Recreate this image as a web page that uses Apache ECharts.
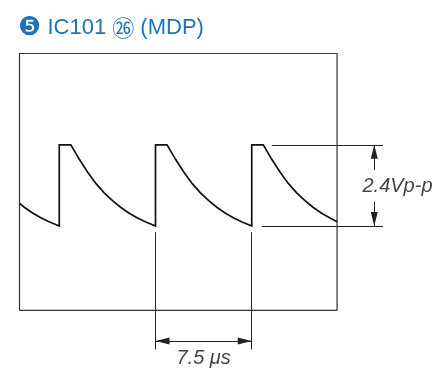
<!DOCTYPE html>
<html>
<head>
<meta charset="utf-8">
<script src="https://cdn.jsdelivr.net/npm/echarts@6/dist/echarts.min.js"></script>
<style>
html,body{margin:0;padding:0;background:#fff;}
#chart{width:440px;height:368px;}
</style>
</head>
<body>
<div id="chart"></div>
<script>
// ---- data (time in µs, level in V) ----
const waveTime = [
  0, 0.4, 1.05, 1.7, 2.35, 3.1,
  3.1, 4.0, 4.65, 5.3, 5.95, 6.6, 7.25, 7.9, 8.55, 9.2, 9.85, 10.6,
  10.6, 11.5, 12.15, 12.8, 13.45, 14.1, 14.75, 15.4, 16.05, 16.7, 17.35, 18.1,
  18.1, 19.0, 19.65, 20.3, 20.95, 21.6, 22.25, 22.9, 23.55, 24.2, 24.75
];
const waveVolt = [
  0.67, 0.55, 0.38, 0.24, 0.12, 0.0,
  2.4, 2.4, 1.98, 1.60, 1.26, 0.98, 0.75, 0.55, 0.38, 0.24, 0.12, 0.0,
  2.4, 2.4, 1.98, 1.60, 1.26, 0.98, 0.75, 0.55, 0.38, 0.24, 0.12, 0.0,
  2.4, 2.4, 1.98, 1.60, 1.26, 0.98, 0.75, 0.55, 0.38, 0.24, 0.13
];
const screenTime = [0, 24.75];      // scope screen horizontal span
const screenVolt = [-2.49, 5.1];    // scope screen vertical span
const edgeTimes = [10.6, 18.1];     // rising edges used for the period marker
const levelVolts = [0, 2.4];        // trough / peak levels
const periodLabel = '7.5';
const ppLabel = '2.4Vp-p';

// ---- build ----
const wave = waveTime.map((t, i) => [t, waveVolt[i]]);
const box = [
  [screenTime[0], screenVolt[0]], [screenTime[1], screenVolt[0]],
  [screenTime[1], screenVolt[1]], [screenTime[0], screenVolt[1]],
  [screenTime[0], screenVolt[0]]
];

// annotation placement
const refEnd = 28.33, topRefStart = 19.66, botRefStart = 18.88;
const vArrowX = 27.65, vGapTop = 1.66, vGapBot = 0.72;
const hArrowY = -3.40, vLineTop = -0.18, vLineBot = -3.65;
const arrowEnd = { symbol: 'triangle', symbolSize: [7, 14], symbolOffset: [0, 7] };

const ml = [
  [{ coord: [topRefStart, levelVolts[1]] }, { coord: [refEnd, levelVolts[1]] }],
  [{ coord: [botRefStart, levelVolts[0]] }, { coord: [refEnd, levelVolts[0]] }],
  [{ coord: [edgeTimes[0], vLineTop] }, { coord: [edgeTimes[0], vLineBot] }],
  [{ coord: [edgeTimes[1], vLineTop] }, { coord: [edgeTimes[1], vLineBot] }],
  [Object.assign({ coord: [vArrowX, levelVolts[1]] }, arrowEnd), { coord: [vArrowX, vGapTop] }],
  [{ coord: [vArrowX, vGapBot] }, Object.assign({ coord: [vArrowX, levelVolts[0]] }, arrowEnd)],
  [Object.assign({ coord: [edgeTimes[0], hArrowY] }, arrowEnd), Object.assign({ coord: [edgeTimes[1], hArrowY] }, arrowEnd)]
];

const FONT = "'Liberation Sans', Arial, 'DejaVu Sans', 'Noto Sans CJK JP', sans-serif";

const chart = echarts.init(document.getElementById('chart'), null, { renderer: 'canvas' });
chart.setOption({
  animation: false,
  backgroundColor: '#ffffff',
  title: {
    left: 13, top: 10,
    text: '{n|❺} IC101 {c|㉖} (MDP)',
    textStyle: {
      fontFamily: FONT, fontSize: 22, fontWeight: 'normal', color: '#1f72b8',
      rich: {
        n: { fontFamily: "'DejaVu Sans', sans-serif", fontSize: 26, color: '#1f72b8' },
        c: { fontFamily: "'Noto Sans CJK JP', sans-serif", fontSize: 22, color: '#1f72b8' }
      }
    }
  },
  grid: { left: 19.5, right: 3.5, top: 53.5, bottom: 6.6 },
  xAxis: { type: 'value', min: 0, max: 32.5, show: false },
  yAxis: { type: 'value', min: -4, max: 5.1, show: false },
  series: [
    {
      name: 'screen', type: 'line', data: box, clip: false, silent: true,
      symbol: 'none', lineStyle: { color: '#333', width: 1.2 }
    },
    {
      name: 'wave', type: 'line', data: wave, clip: false, silent: true,
      symbol: 'none', lineStyle: { color: '#111', width: 1.7, join: 'miter' },
      markLine: {
        silent: true, animation: false,
        symbol: ['none', 'none'],
        label: { show: false },
        lineStyle: { type: 'solid', color: '#222', width: 1 },
        itemStyle: { color: '#111' },
        emphasis: { disabled: true },
        data: ml
      }
    },
    {
      name: 'labels', type: 'scatter', silent: true, symbolSize: 1,
      itemStyle: { color: 'rgba(0,0,0,0)' },
      data: [
        { value: [29.46, 1.17], label: { formatter: ppLabel } },
        { value: [14.35, -3.92], label: { formatter: '{i|' + periodLabel + '} {u|μ}{i|s}' } }
      ],
      label: {
        show: true, position: 'inside', color: '#111',
        fontFamily: FONT, fontSize: 20, fontStyle: 'italic',
        rich: {
          i: { fontFamily: FONT, fontSize: 20, fontStyle: 'italic', color: '#111' },
          u: { fontFamily: FONT, fontSize: 20, color: '#111' }
        }
      }
    }
  ]
});
</script>
</body>
</html>
